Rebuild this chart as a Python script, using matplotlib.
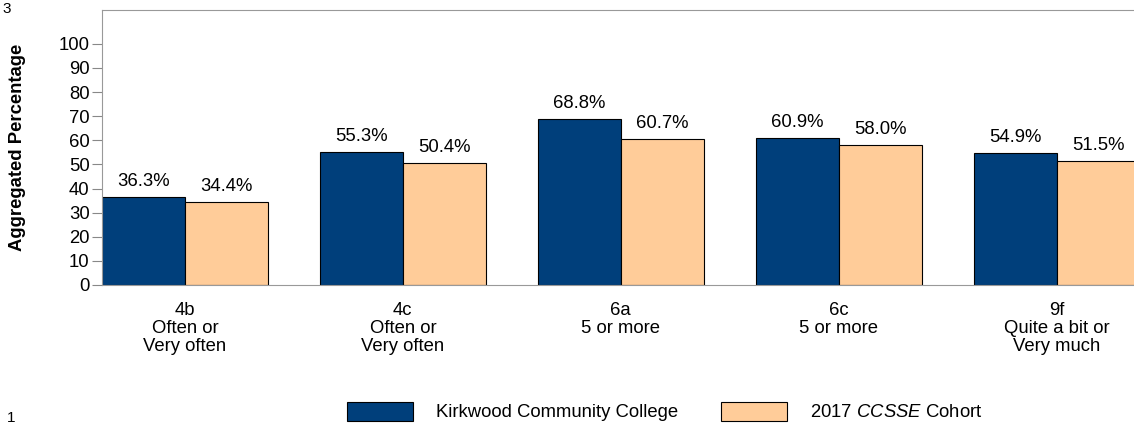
import numpy as np
import matplotlib
matplotlib.use("Agg")
import matplotlib.pyplot as plt
from matplotlib.patches import Patch

plt.rcParams['font.family'] = ['Liberation Sans', 'DejaVu Sans']
plt.rcParams['mathtext.fontset'] = 'custom'
plt.rcParams['mathtext.it'] = 'Liberation Sans:italic'
plt.rcParams['mathtext.rm'] = 'Liberation Sans'

categories = ["4b\nOften or\nVery often", "4c\nOften or\nVery often", "6a\n5 or more",
              "6c\n5 or more", "9f\nQuite a bit or\nVery much"]
college = [36.3, 55.3, 68.8, 60.9, 54.9]
cohort = [34.4, 50.4, 60.7, 58.0, 51.5]
series_names = ["Kirkwood Community College", "2017 $\\it{CCSSE}$ Cohort"]

blue = "#003F7B"
orange = "#FFCC99"
fs = 13.3

fig = plt.figure(figsize=(11.34, 4.26), dpi=100)
ax = fig.add_axes([0.09, 0.331, 0.91, 0.6455])

x = np.arange(len(categories))
w = 0.38
b1 = ax.bar(x - w / 2, college, w, color=blue, edgecolor="black", linewidth=0.8)
b2 = ax.bar(x + w / 2, cohort, w, color=orange, edgecolor="black", linewidth=0.8)

for bars, vals in [(b1, college), (b2, cohort)]:
    for bar, v in zip(bars, vals):
        ax.annotate(f"{v:.1f}%", (bar.get_x() + bar.get_width() / 2, v),
                    xytext=(0, 5), textcoords="offset points",
                    ha="center", va="bottom", fontsize=fs)

ax.set_xlim(-0.38, 4.355)
ax.set_ylim(0, 114)
ax.set_yticks(range(0, 101, 10))
ax.tick_params(axis="y", labelsize=fs, color="#888888", length=7, pad=2)
ax.set_xticks(x)
ax.set_xticklabels(categories, fontsize=fs, linespacing=1.08)
ax.tick_params(axis="x", length=0, pad=12)
for s in ["left", "top", "bottom"]:
    ax.spines[s].set_color("#999999")
ax.spines["right"].set_visible(False)
ax.set_ylabel("Aggregated Percentage", fontsize=fs, fontweight="bold")
ax.yaxis.set_label_coords(-0.0736, 0.5)

handles = [Patch(facecolor=blue, edgecolor="black", linewidth=0.8),
           Patch(facecolor=orange, edgecolor="black", linewidth=0.8)]
fig.legend(handles, series_names, loc="center left", bbox_to_anchor=(0.306, 0.034),
           ncol=2, frameon=False, fontsize=fs, handlelength=3.57, handleheight=1.2,
           columnspacing=2.3, handletextpad=1.25, borderpad=0, borderaxespad=0)

fig.text(0.002, 0.995, "3", fontsize=11, ha="left", va="top")
fig.text(0.006, 0.002, "1", fontsize=11, ha="left", va="bottom")

fig.savefig("out.png", dpi=100)
